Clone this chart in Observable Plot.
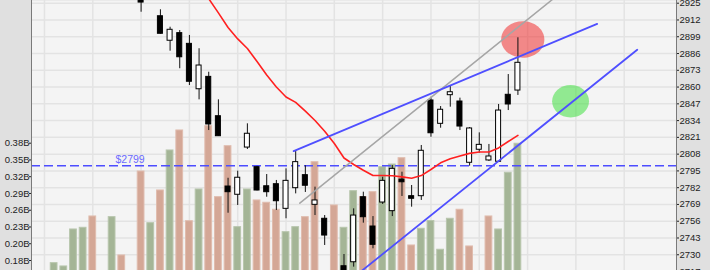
<!DOCTYPE html>
<html><head><meta charset="utf-8">
<script src="https://cdn.jsdelivr.net/npm/d3@7"></script>
<script src="https://cdn.jsdelivr.net/npm/@observablehq/plot@0.6"></script>
<style>
html,body{margin:0;padding:0;background:#e0e0e0;}
#chart{position:relative;width:710px;height:270px;overflow:hidden;}
#chart svg{position:absolute;left:0;top:0;overflow:hidden;}
</style></head><body><div id="chart"></div>
<script>
// ---- data ----
const candleIndex = [0,1,2,3,4,5,6,7,8,9,10,11,12,13,14,15,16,17,18,19,20,21,22,23,24,25,26,27,28,29,30,31,32,33,34,35,36,37,38,39];
const openPrice  = [2932,2935,2914.9,2895.9,2901.8,2893.5,2858.3,2867.9,2837.4,2782.9,2776.5,2813.1,2797.9,2783.1,2784.7,2765.6,2781.6,2791.7,2768.7,2757.9,2712,2721.1,2724.2,2774.6,2751.9,2770.5,2763.8,2788.3,2775.4,2775.4,2849.6,2831.5,2853.7,2848.8,2801.3,2811.4,2803.1,2802.1,2854.0,2857.3];
const highPrice  = [2936,2946,2919.9,2906.4,2903.8,2900.0,2889.7,2871.5,2850.1,2789.3,2794.8,2831.5,2798.5,2792.2,2787.6,2796.6,2810.8,2799.0,2782.4,2760.4,2716,2730.2,2765.6,2778.5,2759.6,2790.1,2799.2,2794.0,2783.7,2814.7,2852.1,2844.9,2860.7,2851.4,2828.6,2824.5,2815.5,2846.5,2869.7,2898.2];
const lowPrice   = [2918,2929,2901.0,2887.8,2874.2,2861.2,2850.1,2826.3,2821.9,2762.2,2768.2,2811.6,2779.5,2774.6,2764.3,2757.9,2777.2,2778.3,2760.4,2737.2,2698,2700,2720.4,2754.5,2734.6,2769.0,2759.6,2775.2,2766.9,2772.1,2821.1,2828.1,2844.4,2826.3,2798.7,2808.7,2802.3,2801.5,2841.8,2853.5];
const closePrice = [2925.5,2941,2901.3,2904.4,2883.1,2864.1,2876.7,2831.0,2821.9,2778.5,2789.7,2823.8,2779.8,2778.5,2771.5,2787.3,2801.8,2783.5,2772.1,2744.9,2702,2708,2760.4,2759.1,2737.7,2787.3,2796.6,2786.2,2773.4,2810.6,2824.2,2842.4,2856.0,2829.4,2827.9,2815.2,2806.2,2841.8,2846.5,2878.8];

const maIndex = [6,7,8,9,10,11,12,13,14,15,16,17,18,19,20,21,22,23,24,25,26,27,28,29,30,31,32,33,34,35,36,37,38,39];
const maValue = [2939.5,2928.5,2917.5,2906.2,2897.3,2889.9,2879.8,2869.3,2860.0,2852.3,2848.1,2841.3,2834.1,2825.8,2816.2,2805.0,2800.0,2795.5,2791.4,2791.4,2791.2,2790.4,2789.3,2791.4,2796.1,2801.3,2804.4,2806.6,2808.6,2809.7,2809.7,2812.8,2817.8,2822.5];

const volIndex = [-9,-8,-7,-6,-5,-4,-3,-2,-1,0,1,2,3,4,5,6,7,8,9,10,11,12,13,14,15,16,17,18,19,20,21,22,23,24,25,26,27,28,29,30,31,32,33,34,35,36,37,38,39];
const volumeB  = [0.1684,0.1627,0.2267,0.2296,0.2492,0.15,0.2480,0.1817,0.15,0.3270,0.2376,0.2942,0.3634,0.3980,0.2410,0.2959,0.4054,0.2826,0.3708,0.2307,0.2959,0.2769,0.2729,0.2608,0.2220,0.2307,0.2480,0.3431,0.15,0.2682,0.2296,0.2930,0.2826,0.2912,0.3345,0.3391,0.3500,0.1990,0.2279,0.2414,0.1916,0.2452,0.2608,0.1973,0.15,0.2492,0.2267,0.3248,0.3750];
const volDir   = ["up","up","up","up","down","down","up","down","up","down","up","down","up","down","down","up","down","down","down","up","up","down","down","down","up","up","down","down","down","down","up","up","down","down","up","up","down","down","up","up","up","up","down","down","down","down","up","up","up"];

const priceTicks = [2925,2912,2899,2886,2873,2860,2847,2834,2821,2808,2795,2782,2769,2756,2743,2730,2717];
const volTickValues = [0.376,0.347,0.318,0.289,0.260,0.231,0.202,0.173];
const volTickLabels = ["0.38B","0.35B","0.32B","0.29B","0.26B","0.23B","0.20B","0.18B"];
const gridIndex = [-10,-5,0,5,10,15,20,25,30,35,40,45,50];

const supportPrice = 2799;
const supportLabel = "$2799";
const supportLabelIndex = -2.65;

const upperTrendIndex = [15.79, 47.2];
const upperTrendPrice = [2810.3, 2909.0];
const lowerTrendIndex = [22, 51.35];
const lowerTrendPrice = [2712.5, 2888.9];
const grayTrendIndex = [16.43, 43.73];
const grayTrendPrice = [2770.0, 2934.9];

const markerIndex = [39.5, 44.45];
const markerPrice = [2896.9, 2849.0];
const markerRadius = [18.3, 16.2];
const markerAspect = [1.18, 1.14];
const markerColor = ["#f03030", "#40e040"];

// ---- build tables ----
const candles = candleIndex.map((i, k) => ({i, open: openPrice[k], high: highPrice[k], low: lowPrice[k], close: closePrice[k]}));
const ma = maIndex.map((i, k) => ({i, v: maValue[k]}));
const vols = volIndex.map((i, k) => ({i, v: volumeB[k], dir: volDir[k]}));
const pts = (xs, ys) => xs.map((x, k) => ({i: x, p: ys[k]}));
const markers = markerIndex.map((i, k) => ({i, p: markerPrice[k], r: markerRadius[k], a: markerAspect[k], c: markerColor[k]}));

function ellipse(aspect) {
  return {draw(ctx, size) {
    const ry = Math.sqrt(size / Math.PI), rx = ry * aspect, k = 0.5522847498;
    ctx.moveTo(rx, 0);
    ctx.bezierCurveTo(rx, ry * k, rx * k, ry, 0, ry);
    ctx.bezierCurveTo(-rx * k, ry, -rx, ry * k, -rx, 0);
    ctx.bezierCurveTo(-rx, -ry * k, -rx * k, -ry, 0, -ry);
    ctx.bezierCurveTo(rx * k, -ry, rx, -ry * k, rx, 0);
    ctx.closePath();
  }};
}

const xDomain = [-11.343, 55.413];
const priceDomain = [2717.8, 2927.1];
const volDomain = [0.1557, 0.6229];
const common = {width: 710, height: 270, marginLeft: 31, marginRight: 34, marginTop: 0, marginBottom: 0};
const style = {background: "transparent", fontFamily: "'Liberation Sans', Arial, sans-serif", fontSize: "9.5px", color: "#222", overflow: "hidden"};

const bg = Plot.plot({
  ...common, style,
  x: {domain: xDomain, axis: null},
  y: {domain: priceDomain, axis: null},
  marks: [
    Plot.frame({fill: "#f4f4f4", stroke: "none"}),
    Plot.ruleY(priceTicks, {stroke: "#e3e3e3", strokeWidth: 1.5}),
    Plot.ruleX(gridIndex, {stroke: "#e3e3e3", strokeWidth: 1.5})
  ]
});

const volPlot = Plot.plot({
  ...common, style,
  x: {domain: xDomain, axis: null},
  y: {domain: volDomain, axis: "left", ticks: volTickValues, tickFormat: d => volTickLabels[volTickValues.indexOf(d)], tickSize: 2, tickPadding: 0, label: null},
  marks: [
    Plot.rect(vols, {x1: d => d.i - 0.35, x2: d => d.i + 0.35, y1: 0, y2: "v",
      fill: d => d.dir === "up" ? "#a4b596" : "#d4a796",
      stroke: d => d.dir === "up" ? "#b8c6ad" : "#e0bcae", strokeWidth: 1, clip: true})
  ]
});

const pricePlot = Plot.plot({
  ...common, style,
  x: {domain: xDomain, axis: null},
  y: {domain: priceDomain, axis: "right", ticks: priceTicks, tickFormat: d => String(d), tickSize: 2, tickPadding: 1, label: null},
  marks: [
    ...markers.map(m => Plot.dot([m], {x: "i", y: "p", r: m.r, symbol: ellipse(m.a), fill: m.c, fillOpacity: 0.55, stroke: "none", clip: true})),
    Plot.ruleY([supportPrice], {stroke: "#4d4dff", strokeWidth: 1.3, strokeDasharray: "9,4"}),
    Plot.text([supportLabel], {x: supportLabelIndex, y: supportPrice, text: d => d, textAnchor: "start", dy: -6, fill: "#6b6bff", fontSize: 10.5}),
    Plot.ruleX(candles, {x: "i", y1: "low", y2: "high", stroke: "#111", strokeWidth: 1, clip: true}),
    Plot.rect(candles, {x1: d => d.i - 0.26, x2: d => d.i + 0.26, y1: "open", y2: "close",
      fill: d => d.close >= d.open ? "#ffffff" : "#000000", stroke: "#000", strokeWidth: 1, clip: true}),
    Plot.line(ma, {x: "i", y: "v", stroke: "#ff2020", strokeWidth: 1.6, clip: true}),
    Plot.line(pts(grayTrendIndex, grayTrendPrice), {x: "i", y: "p", stroke: "#a6a6a6", strokeWidth: 1.5, clip: true}),
    Plot.line(pts(upperTrendIndex, upperTrendPrice), {x: "i", y: "p", stroke: "#4f4fff", strokeWidth: 1.8, clip: true}),
    Plot.line(pts(lowerTrendIndex, lowerTrendPrice), {x: "i", y: "p", stroke: "#4f4fff", strokeWidth: 1.8, clip: true}),
    Plot.ruleX(xDomain, {stroke: "#7a7a7a", strokeWidth: 1})
  ]
});

const chart = document.getElementById("chart");
chart.append(bg, volPlot, pricePlot);
</script></body></html>
